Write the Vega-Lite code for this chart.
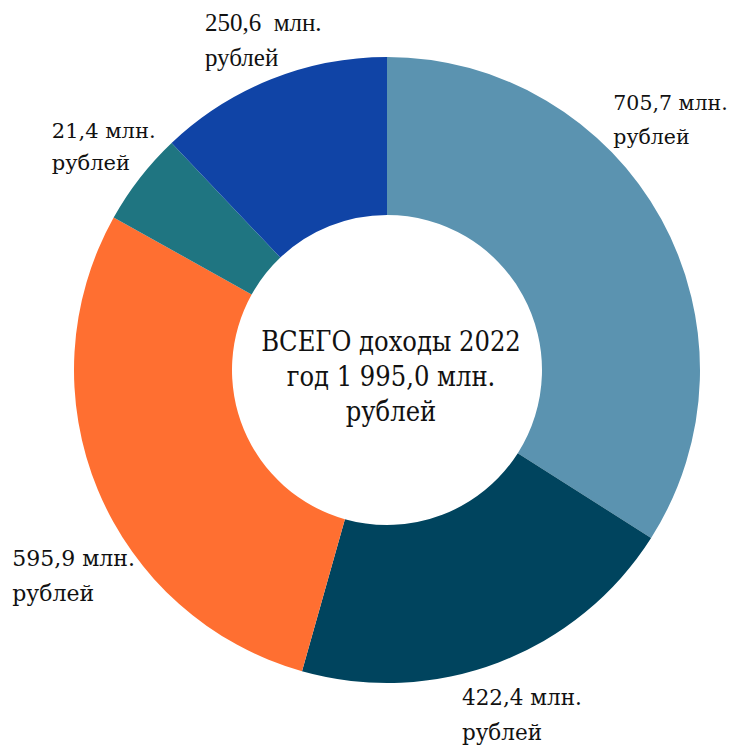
{
  "$schema": "https://vega.github.io/schema/vega-lite/v6.json",
  "width": 694,
  "height": 740,
  "autosize": {"type": "none"},
  "padding": {"left": 40, "top": 0, "right": 0, "bottom": 9},
  "background": "white",
  "config": {"view": {"stroke": null}},
  "data": {
    "values": [
      {"slice": "A", "order": 1, "value": 705.7, "label": ["705,7 млн.", "рублей"]},
      {"slice": "B", "order": 2, "value": 422.4, "label": ["422,4 млн.", "рублей"]},
      {"slice": "C", "order": 3, "value": 595.9, "label": ["595,9 млн.", "рублей"]},
      {"slice": "D", "order": 4, "value": 100, "label": ["21,4 млн.", "рублей"]},
      {"slice": "E", "order": 5, "value": 250.6, "label": ["250,6\u00a0 млн.", "рублей"]}
    ]
  },
  "layer": [
    {
      "mark": {"type": "arc", "outerRadius": 313, "innerRadius": 155},
      "encoding": {
        "theta": {"field": "value", "type": "quantitative", "stack": true},
        "order": {"field": "order", "type": "quantitative"},
        "color": {
          "field": "slice",
          "type": "nominal",
          "scale": {"domain": ["A", "B", "C", "D", "E"], "range": ["#5b93b0", "#00445e", "#ff6f31", "#1f7581", "#1044a6"]},
          "legend": null
        }
      }
    },
    {
      "mark": {"type": "text", "radius": 370, "align": "left", "baseline": "middle", "dx": -98, "dy": -88, "font": "DejaVu Serif", "fontSize": 20.5, "lineHeight": 34, "color": "#111"},
      "encoding": {
        "theta": {"field": "value", "type": "quantitative", "stack": true},
        "order": {"field": "order", "type": "quantitative"},
        "text": {"condition": {"test": "datum.order === 1", "field": "label"}, "value": ""}
      }
    },
    {
      "mark": {"type": "text", "radius": 370, "align": "left", "baseline": "middle", "dx": -57, "dy": -17, "font": "DejaVu Serif", "fontSize": 21.5, "lineHeight": 35, "color": "#111"},
      "encoding": {
        "theta": {"field": "value", "type": "quantitative", "stack": true},
        "order": {"field": "order", "type": "quantitative"},
        "text": {"condition": {"test": "datum.order === 2", "field": "label"}, "value": ""}
      }
    },
    {
      "mark": {"type": "text", "radius": 370, "align": "left", "baseline": "middle", "dx": -33, "dy": 47, "font": "DejaVu Serif", "fontSize": 22, "lineHeight": 35, "color": "#111"},
      "encoding": {
        "theta": {"field": "value", "type": "quantitative", "stack": true},
        "order": {"field": "order", "type": "quantitative"},
        "text": {"condition": {"test": "datum.order === 3", "field": "label"}, "value": ""}
      }
    },
    {
      "mark": {"type": "text", "radius": 370, "align": "left", "baseline": "middle", "dx": -43, "dy": -11, "font": "DejaVu Serif", "fontSize": 21, "lineHeight": 32, "color": "#111"},
      "encoding": {
        "theta": {"field": "value", "type": "quantitative", "stack": true},
        "order": {"field": "order", "type": "quantitative"},
        "text": {"condition": {"test": "datum.order === 4", "field": "label"}, "value": ""}
      }
    },
    {
      "mark": {"type": "text", "radius": 370, "align": "left", "baseline": "middle", "dx": -45, "dy": -3, "font": "Liberation Serif", "fontSize": 25, "lineHeight": 35, "color": "#111"},
      "encoding": {
        "theta": {"field": "value", "type": "quantitative", "stack": true},
        "order": {"field": "order", "type": "quantitative"},
        "text": {"condition": {"test": "datum.order === 5", "field": "label"}, "value": ""}
      }
    },
    {
      "data": {"values": [{"t": ["ВСЕГО доходы 2022", "год 1 995,0 млн.", "рублей"]}]},
      "mark": {"type": "text", "align": "center", "baseline": "middle", "dx": 4, "dy": -27, "font": "DejaVu Serif Condensed", "fontSize": 27, "lineHeight": 35, "color": "#111"},
      "encoding": {"text": {"field": "t"}}
    }
  ]
}
